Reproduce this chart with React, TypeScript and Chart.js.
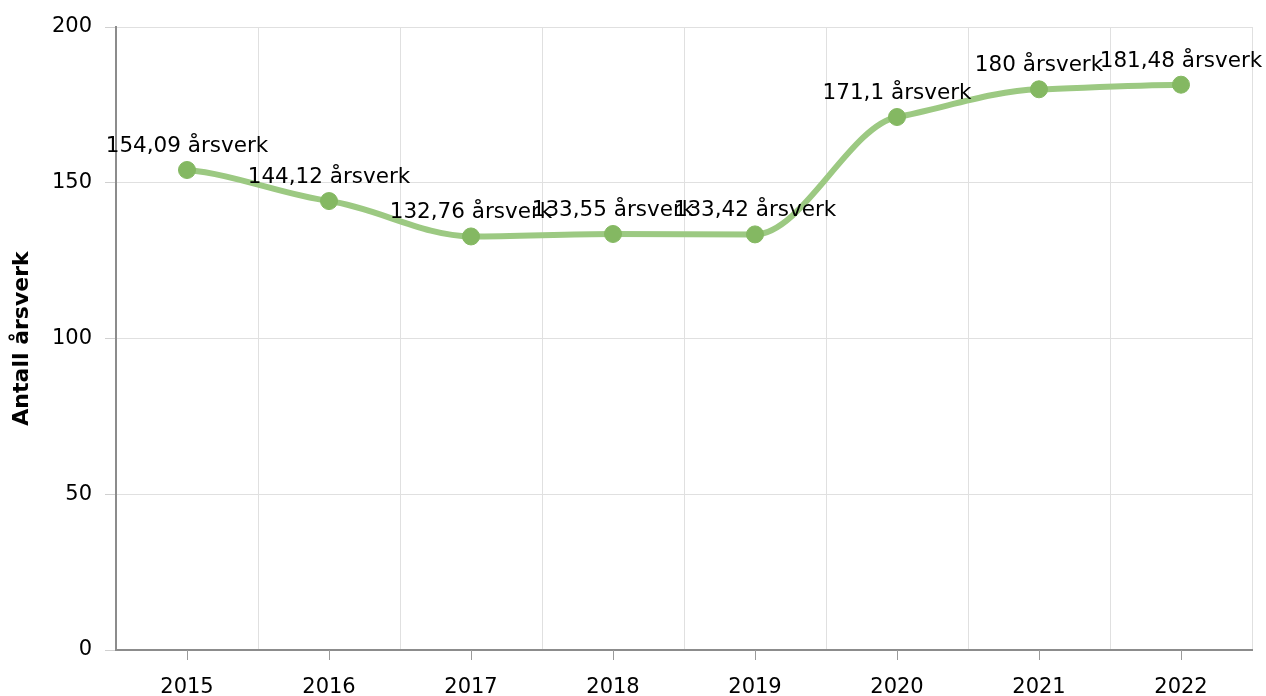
import React, { useEffect, useRef } from "react";
import { Chart, registerables } from "chart.js";

Chart.register(...registerables);

const years = ["2015", "2016", "2017", "2018", "2019", "2020", "2021", "2022"];
const arsverk = [154.09, 144.12, 132.76, 133.55, 133.42, 171.1, 180, 181.48];
const yTicks = [0, 50, 100, 150, 200];
const unitLabel = "årsverk";
const yTitle = "Antall årsverk";

const FONT = "'DejaVu Sans', Verdana, sans-serif";
const TICK_SIZE = 21;
const LABEL_SIZE = 21.5;
const TITLE_SIZE = 22;

const fmt = (v: number) => String(v).replace(".", ",") + " " + unitLabel;

// Smoothed monotone curve with flattened tangents at the data points
const splinePlugin = {
  id: "splinePlugin",
  beforeDatasetsDraw(chart: any) {
    const meta = chart.getDatasetMeta(0);
    const line = meta.dataset;
    if (!line) return;
    line.updateControlPoints(chart.chartArea, "x");
    const pts = meta.data;
    const n = pts.length;
    const k = 0.6;
    const s: number[] = [];
    const h: number[] = [];
    for (let i = 0; i < n - 1; i++) {
      h[i] = pts[i + 1].x - pts[i].x;
      s[i] = (pts[i + 1].y - pts[i].y) / h[i];
    }
    const t: number[] = [];
    for (let i = 0; i < n; i++) {
      if (i === 0) t[i] = 0.4 * s[0];
      else if (i === n - 1) t[i] = 0.4 * s[n - 2];
      else {
        const a = s[i - 1];
        const b = s[i];
        t[i] = a * b > 0 ? (k * 2 * a * b) / (a + b) : 0;
      }
    }
    for (let i = 0; i < n; i++) {
      const p = pts[i];
      const hl = i > 0 ? h[i - 1] / 3 : 0;
      const hr = i < n - 1 ? h[i] / 3 : 0;
      p.cp1x = p.x - hl;
      p.cp1y = p.y - t[i] * hl;
      p.cp2x = p.x + hr;
      p.cp2y = p.y + t[i] * hr;
    }
  },
};

const pointLabels = {
  id: "pointLabels",
  afterDatasetsDraw(chart: any) {
    const ctx = chart.ctx;
    const meta = chart.getDatasetMeta(0);
    ctx.save();
    ctx.font = `${LABEL_SIZE}px ${FONT}`;
    ctx.fillStyle = "#000";
    ctx.textAlign = "center";
    ctx.textBaseline = "alphabetic";
    meta.data.forEach((pt: any, i: number) => {
      ctx.fillText(fmt(arsverk[i]), pt.x, pt.y - 18);
    });
    ctx.restore();
  },
};

const xTickMarks = {
  id: "xTickMarks",
  afterDraw(chart: any) {
    const ctx = chart.ctx;
    const xs = chart.scales.x;
    ctx.save();
    ctx.strokeStyle = "#9a9a9a";
    ctx.lineWidth = 1;
    xs.ticks.forEach((_t: any, i: number) => {
      const x = Math.round(xs.getPixelForTick(i)) + 0.5;
      ctx.beginPath();
      ctx.moveTo(x, xs.top);
      ctx.lineTo(x, xs.top + 10);
      ctx.stroke();
    });
    ctx.restore();
  },
};

export default function App() {
  const ref = useRef<HTMLCanvasElement | null>(null);
  useEffect(() => {
    if (!ref.current) return;
    const chart = new Chart(ref.current, {
      type: "line",
      data: {
        labels: years,
        datasets: [
          {
            data: arsverk,
            borderColor: "#9cc982",
            backgroundColor: "#84b862",
            pointBackgroundColor: "#84b862",
            pointBorderColor: "#84b862",
            borderWidth: 6,
            pointRadius: 8.5,
            pointBorderWidth: 1,
            tension: 0.4,
            fill: false,
          },
        ],
      },
      options: {
        animation: false,
        responsive: true,
        maintainAspectRatio: false,
        layout: { padding: { top: 27, right: 14, left: 0, bottom: 0 } },
        plugins: { legend: { display: false }, tooltip: { enabled: false } },
        scales: {
          x: {
            offset: true,
            grid: {
              offset: true,
              color: "#e0e0e0",
              tickColor: "rgba(0,0,0,0)",
              tickLength: 10,
            },
            border: { color: "#8c8c8c", width: 2 },
            ticks: {
              color: "#000",
              font: { family: FONT, size: TICK_SIZE },
              padding: 15,
              maxRotation: 0,
            },
            afterFit(scale: any) {
              scale.height = 46;
            },
          },
          y: {
            min: 0,
            max: 200,
            afterBuildTicks(scale: any) {
              scale.ticks = yTicks.map((v) => ({ value: v }));
            },
            grid: { color: "#e0e0e0", tickColor: "#d0d0d0", tickLength: 11 },
            border: { color: "#8c8c8c", width: 2 },
            ticks: {
              color: "#000",
              font: { family: FONT, size: TICK_SIZE },
              padding: 13,
            },
            title: {
              display: true,
              text: yTitle,
              color: "#000",
              font: { family: FONT, size: TITLE_SIZE, weight: "bold" },
              padding: { top: 9, bottom: 0 },
            },
            afterFit(scale: any) {
              scale.width = 116;
            },
          },
        },
      },
      plugins: [splinePlugin, pointLabels, xTickMarks],
    });
    return () => chart.destroy();
  }, []);
  return (
    <div style={{ position: "fixed", left: 0, top: 0, width: 1266, height: 696, background: "#fff" }}>
      <canvas ref={ref} />
    </div>
  );
}
